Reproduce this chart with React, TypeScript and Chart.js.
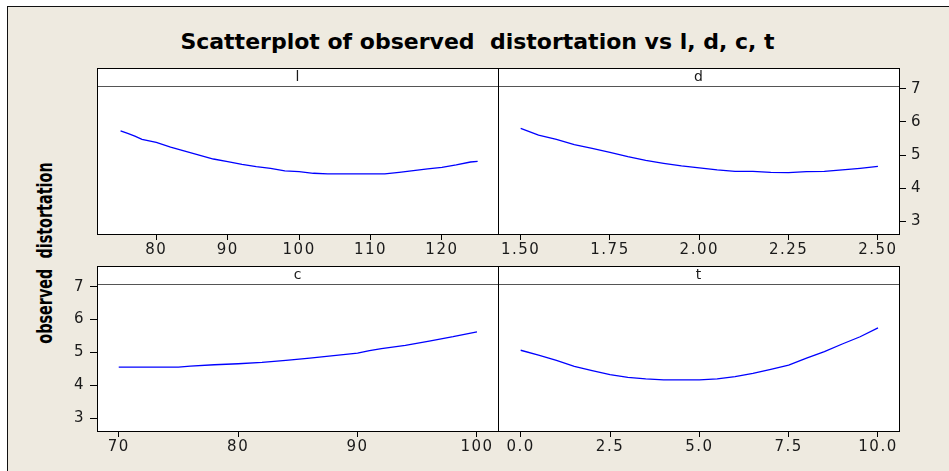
import React, { useEffect, useRef } from "react";
import { Chart, registerables } from "chart.js";

Chart.register(...registerables);

const W = 949;
const H = 471;

const TITLE = "Scatterplot of observed  distortation vs l, d, c, t";
const Y_LABEL = "observed  distortation";
const PANEL_NAMES = ["l", "d", "c", "t"];

// panel l
const lValues = [75, 76, 77, 78, 80, 82, 84, 86, 88, 90, 92, 94, 96, 98, 100, 102, 104, 106, 108, 110, 112, 114, 116, 118, 120, 122, 124, 125];
const lResponse = [5.73, 5.65, 5.57, 5.47, 5.38, 5.24, 5.12, 5.0, 4.88, 4.8, 4.72, 4.65, 4.6, 4.52, 4.5, 4.45, 4.43, 4.43, 4.43, 4.43, 4.43, 4.48, 4.53, 4.58, 4.63, 4.7, 4.79, 4.81];
const lTicks = [80, 90, 100, 110, 120];
const lTickLabels = ["80", "90", "100", "110", "120"];

// panel d
const dValues = [1.5, 1.55, 1.6, 1.65, 1.7, 1.75, 1.8, 1.85, 1.9, 1.95, 2.0, 2.05, 2.1, 2.15, 2.2, 2.25, 2.3, 2.35, 2.4, 2.45, 2.5];
const dResponse = [5.8, 5.6, 5.47, 5.31, 5.2, 5.08, 4.95, 4.84, 4.75, 4.67, 4.61, 4.55, 4.51, 4.51, 4.48, 4.47, 4.5, 4.51, 4.55, 4.6, 4.66];
const dTicks = [1.5, 1.75, 2.0, 2.25, 2.5];
const dTickLabels = ["1.50", "1.75", "2.00", "2.25", "2.50"];

// panel c
const cValues = [70, 72, 74, 75, 76, 78, 80, 82, 84, 86, 88, 90, 91, 92, 94, 96, 98, 100];
const cResponse = [4.56, 4.56, 4.56, 4.56, 4.59, 4.63, 4.66, 4.7, 4.76, 4.83, 4.91, 4.98, 5.06, 5.12, 5.22, 5.35, 5.48, 5.63];
const cTicks = [70, 80, 90, 100];
const cTickLabels = ["70", "80", "90", "100"];

// panel t
const tValues = [0, 0.5, 1, 1.5, 2, 2.5, 3, 3.5, 4, 4.5, 5, 5.5, 6, 6.5, 7, 7.5, 8, 8.5, 9, 9.5, 10];
const tResponse = [5.07, 4.92, 4.76, 4.58, 4.45, 4.33, 4.25, 4.2, 4.17, 4.17, 4.17, 4.2, 4.27, 4.37, 4.49, 4.62, 4.83, 5.03, 5.26, 5.48, 5.75];
const tTicks = [0, 2.5, 5, 7.5, 10];
const tTickLabels = ["0.0", "2.5", "5.0", "7.5", "10.0"];

// shared response axis
const yTicks = [3, 4, 5, 6, 7];
const yTickLabels = ["3", "4", "5", "6", "7"];

const Y_MIN = 2.62;
const Y_MAX = 7.08;

type YSide = "none" | "left" | "right";

interface PanelSpec {
  name: string;
  xs: number[];
  ys: number[];
  xTicks: number[];
  xTickLabels: string[];
  xMin: number;
  xMax: number;
  ySide: YSide;
  box: { left: number; top: number; right: number; bottom: number };
}

const PANELS: PanelSpec[] = [
  { name: PANEL_NAMES[0], xs: lValues, ys: lResponse, xTicks: lTicks, xTickLabels: lTickLabels, xMin: 71.7, xMax: 127.85, ySide: "none", box: { left: 97, top: 86, right: 498, bottom: 234 } },
  { name: PANEL_NAMES[1], xs: dValues, ys: dResponse, xTicks: dTicks, xTickLabels: dTickLabels, xMin: 1.4365, xMax: 2.559, ySide: "right", box: { left: 498, top: 86, right: 899, bottom: 234 } },
  { name: PANEL_NAMES[2], xs: cValues, ys: cResponse, xTicks: cTicks, xTickLabels: cTickLabels, xMin: 68.18, xMax: 101.76, ySide: "left", box: { left: 97, top: 284, right: 498, bottom: 431 } },
  { name: PANEL_NAMES[3], xs: tValues, ys: tResponse, xTicks: tTicks, xTickLabels: tTickLabels, xMin: -0.635, xMax: 10.588, ySide: "none", box: { left: 498, top: 284, right: 899, bottom: 431 } },
];

const STRIP_H = 18;
const AXIS_X_H = 30;
const AXIS_Y_W = 34;
const TICK_FONT = { family: "'DejaVu Sans', Verdana, sans-serif", size: 15 };
const TEXT_COLOR = "#1a1a1a";

const panelFrame = {
  id: "panelFrame",
  beforeDraw(chart: any) {
    const { ctx, chartArea } = chart;
    const { left, top, right, bottom } = chartArea;
    ctx.save();
    ctx.fillStyle = "#ffffff";
    ctx.fillRect(left, top - STRIP_H, right - left, bottom - top + STRIP_H);
    ctx.restore();
    // slightly wider tick lettering, as in the reference
    ctx.letterSpacing = "1.5px";
  },
  afterDraw(chart: any, _args: any, opts: any) {
    const { ctx, chartArea } = chart;
    const { left, top, right, bottom } = chartArea;
    ctx.save();
    ctx.letterSpacing = "0px";
    ctx.strokeStyle = "#555555";
    ctx.lineWidth = 1;
    ctx.beginPath();
    ctx.moveTo(left, top + 0.5);
    ctx.lineTo(right, top + 0.5);
    ctx.stroke();
    ctx.strokeStyle = "#000000";
    ctx.strokeRect(left + 0.5, top - STRIP_H + 0.5, right - left, bottom - top + STRIP_H);
    ctx.fillStyle = TEXT_COLOR;
    ctx.font = "14px 'DejaVu Sans', Verdana, sans-serif";
    ctx.textAlign = "center";
    ctx.textBaseline = "middle";
    ctx.fillText(opts.label, (left + right) / 2, top - STRIP_H / 2);
    ctx.restore();
    ctx.letterSpacing = "0px";
  },
};

function PanelChart({ spec }: { spec: PanelSpec }) {
  const ref = useRef<HTMLCanvasElement | null>(null);
  useEffect(() => {
    if (!ref.current) return;
    const { box } = spec;
    const yShown = spec.ySide !== "none";
    const pad = {
      left: box.left - (spec.ySide === "left" ? AXIS_Y_W : 0),
      right: W - box.right - (spec.ySide === "right" ? AXIS_Y_W : 0),
      top: box.top,
      bottom: H - box.bottom - AXIS_X_H,
    };
    const chart = new Chart(ref.current, {
      type: "line",
      data: {
        datasets: [
          {
            data: spec.xs.map((x, i) => ({ x, y: spec.ys[i] })),
            borderColor: "#0000ff",
            borderWidth: 1.3,
            pointRadius: 0,
            fill: false,
            tension: 0,
          },
        ],
      },
      options: {
        animation: false,
        responsive: false,
        maintainAspectRatio: false,
        devicePixelRatio: 1,
        layout: { padding: pad },
        plugins: {
          legend: { display: false },
          tooltip: { enabled: false },
          title: { display: false },
          panelFrame: { label: spec.name },
        } as any,
        scales: {
          x: {
            type: "linear",
            position: "bottom",
            min: spec.xMin,
            max: spec.xMax,
            afterFit: (s: any) => {
              s.height = AXIS_X_H;
            },
            afterBuildTicks: (s: any) => {
              s.ticks = spec.xTicks.map((v) => ({ value: v }));
            },
            ticks: {
              autoSkip: false,
              maxRotation: 0,
              padding: 1,
              color: TEXT_COLOR,
              font: TICK_FONT,
              callback: (_v: any, i: number) => spec.xTickLabels[i],
            },
            grid: { drawOnChartArea: false, drawTicks: true, tickLength: 6, color: "#000000", lineWidth: 1 },
            border: { display: false },
          },
          y: {
            type: "linear",
            display: yShown,
            position: spec.ySide === "right" ? "right" : "left",
            min: Y_MIN,
            max: Y_MAX,
            afterFit: (s: any) => {
              s.width = yShown ? AXIS_Y_W : 0;
            },
            afterBuildTicks: (s: any) => {
              s.ticks = yTicks.map((v) => ({ value: v }));
            },
            ticks: {
              autoSkip: false,
              padding: 5,
              color: TEXT_COLOR,
              font: TICK_FONT,
              callback: (_v: any, i: number) => yTickLabels[i],
            },
            grid: { drawOnChartArea: false, drawTicks: true, tickLength: 7, color: "#000000", lineWidth: 1 },
            border: { display: false },
          },
        },
      } as any,
      plugins: [panelFrame],
    });
    return () => chart.destroy();
  }, [spec]);
  return (
    <canvas
      ref={ref}
      width={W}
      height={H}
      style={{ position: "absolute", left: 0, top: 0, width: W, height: H }}
    />
  );
}

export default function App() {
  return (
    <div style={{ position: "absolute", left: 0, top: 0, width: W, height: H, background: "#ffffff", overflow: "hidden" }}>
      <div
        style={{
          position: "absolute",
          left: 7,
          top: 6,
          width: W - 7,
          height: H - 6,
          background: "#eeeae0",
          borderTop: "1px solid #111",
          borderLeft: "1px solid #111",
          boxSizing: "border-box",
        }}
      />
      <div
        style={{
          position: "absolute",
          left: 0,
          width: 955,
          top: 28,
          textAlign: "center",
          fontFamily: "'DejaVu Sans', sans-serif",
          fontWeight: "bold",
          fontSize: 22,
          lineHeight: "28px",
          color: "#000",
          whiteSpace: "pre",
        }}
      >
        {TITLE}
      </div>
      <div
        style={{
          position: "absolute",
          left: 45,
          top: 253,
          transform: "translate(-50%, -50%) rotate(-90deg) scale(1, 1.3)",
          fontFamily: "'DejaVu Sans Condensed', 'DejaVu Sans', sans-serif",
          fontStretch: "condensed",
          fontWeight: "bold",
          fontSize: 16,
          lineHeight: "20px",
          color: "#000",
          whiteSpace: "pre",
        }}
      >
        {Y_LABEL}
      </div>
      {PANELS.map((p) => (
        <PanelChart key={p.name} spec={p} />
      ))}
    </div>
  );
}
